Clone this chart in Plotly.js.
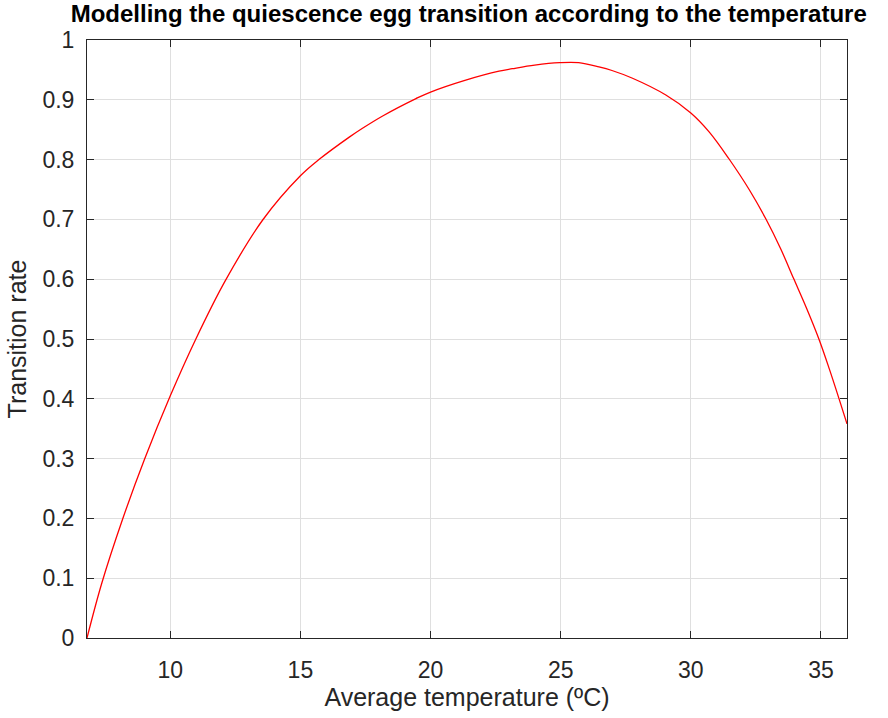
<!DOCTYPE html>
<html>
<head>
<meta charset="utf-8">
<script src="https://cdn.plot.ly/plotly-3.0.1.min.js"></script>
<style>html,body{margin:0;padding:0;background:#fff;}#chart{width:888px;height:718px;}</style>
</head>
<body>
<div id="chart"></div>
<script>
const temperature = [6.8, 7.37, 8.17, 9.01, 10.0, 10.96, 12.12, 13.55, 15.0, 15.71, 16.89, 17.37, 18.16, 19.44, 20.0, 21.35, 22.63, 23.14, 24.0, 24.96, 25.69, 26.47, 26.97, 27.76, 29.04, 30.0, 30.71, 31.47, 32.24, 32.88, 33.46, 33.95, 34.45, 34.92, 35.32, 35.68, 36.0];
const transitionRate = [0, 0.092, 0.199, 0.299, 0.405, 0.498, 0.598, 0.699, 0.773, 0.800, 0.838, 0.852, 0.873, 0.902, 0.913, 0.933, 0.948, 0.952, 0.958, 0.962, 0.962, 0.955, 0.949, 0.936, 0.908, 0.878, 0.846, 0.801, 0.750, 0.701, 0.650, 0.601, 0.551, 0.500, 0.450, 0.402, 0.358];
const xTicks = [10, 15, 20, 25, 30, 35];
const yTicks = [0, 0.1, 0.2, 0.3, 0.4, 0.5, 0.6, 0.7, 0.8, 0.9, 1];
const yTickLabels = ['0', '0.1', '0.2', '0.3', '0.4', '0.5', '0.6', '0.7', '0.8', '0.9', '1'];

const fontFam = 'Liberation Sans, Arial, Helvetica, sans-serif';
const axisCol = '#262626';

const trace = {
  x: temperature, y: transitionRate, type: 'scatter', mode: 'lines',
  line: {color: '#ff0000', width: 1.3, shape: 'spline', smoothing: 1},
  hoverinfo: 'x+y'
};

const layout = {
  width: 888, height: 718,
  margin: {l: 87, r: 41, t: 39.5, b: 80},
  paper_bgcolor: '#ffffff', plot_bgcolor: '#ffffff',
  showlegend: false,
  font: {family: fontFam, color: axisCol, size: 23},
  title: {
    text: '<b>Modelling the quiescence egg transition according to the temperature</b>',
    font: {family: fontFam, size: 24, color: '#000000'},
    x: 446/888, xref: 'paper', xanchor: 'center',
    y: 1 - 14/718, yanchor: 'middle'
  },
  xaxis: {
    range: [6.8, 36], tickvals: xTicks, ticktext: xTicks.map(String),
    showgrid: true, gridcolor: '#dfdfdf', gridwidth: 1,
    showline: true, linecolor: axisCol, linewidth: 1, mirror: 'ticks',
    ticks: 'inside', ticklen: 7, tickcolor: axisCol, tickwidth: 1,
    ticklabelstandoff: 11, zeroline: false,
    tickfont: {family: fontFam, size: 23, color: axisCol},
    title: {text: 'Average temperature (ºC)', font: {family: fontFam, size: 25, color: axisCol}, standoff: 6}
  },
  yaxis: {
    range: [0, 1], tickvals: yTicks, ticktext: yTickLabels,
    showgrid: true, gridcolor: '#dfdfdf', gridwidth: 1,
    showline: true, linecolor: axisCol, linewidth: 1, mirror: 'ticks',
    ticks: 'inside', ticklen: 7, tickcolor: axisCol, tickwidth: 1,
    ticklabelstandoff: 7, zeroline: false,
    tickfont: {family: fontFam, size: 23, color: axisCol},
    title: {text: 'Transition rate', font: {family: fontFam, size: 25, color: axisCol}, standoff: 8}
  }
};

Plotly.newPlot('chart', [trace], layout, {displayModeBar: false});
</script>
</body>
</html>
